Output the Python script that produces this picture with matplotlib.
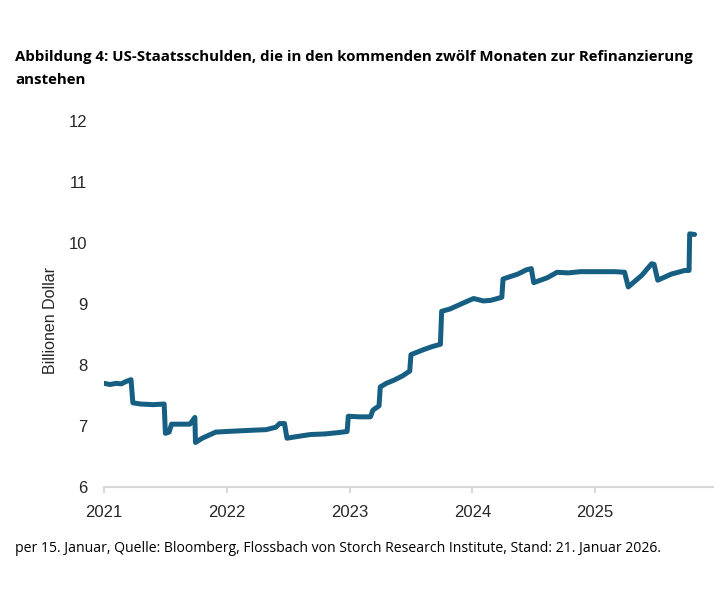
import numpy as np
import matplotlib as mpl
mpl.use("Agg")
import matplotlib.pyplot as plt

# 1) Data (decimal years, Billionen Dollar)
years = [2021.00, 2021.05, 2021.10, 2021.14, 2021.18, 2021.22, 2021.235,
         2021.30, 2021.40, 2021.49, 2021.50, 2021.53, 2021.55, 2021.62,
         2021.70, 2021.74, 2021.745, 2021.80, 2021.91, 2022.00, 2022.10,
         2022.20, 2022.32, 2022.40, 2022.43, 2022.47, 2022.49, 2022.55,
         2022.68, 2022.80, 2022.90, 2022.98, 2022.99, 2023.08, 2023.17,
         2023.19, 2023.24, 2023.25, 2023.30, 2023.36, 2023.43, 2023.49,
         2023.50, 2023.60, 2023.67, 2023.74, 2023.75, 2023.82, 2023.93,
         2024.01, 2024.09, 2024.15, 2024.24, 2024.25, 2024.37, 2024.44,
         2024.48, 2024.50, 2024.61, 2024.69, 2024.78, 2024.88, 2025.00,
         2025.16, 2025.24, 2025.27, 2025.38, 2025.46, 2025.48, 2025.51,
         2025.62, 2025.73, 2025.765, 2025.77, 2025.81]
values = [7.70, 7.68, 7.70, 7.69, 7.73, 7.76, 7.38,
          7.36, 7.35, 7.36, 6.88, 6.90, 7.03, 7.03,
          7.03, 7.14, 6.73, 6.80, 6.90, 6.91, 6.92,
          6.93, 6.94, 6.98, 7.04, 7.04, 6.80, 6.82,
          6.86, 6.87, 6.89, 6.91, 7.16, 7.15, 7.15,
          7.26, 7.33, 7.64, 7.70, 7.75, 7.82, 7.90,
          8.17, 8.25, 8.30, 8.34, 8.88, 8.92, 9.02,
          9.09, 9.05, 9.06, 9.11, 9.41, 9.49, 9.56,
          9.58, 9.35, 9.43, 9.52, 9.51, 9.53, 9.53,
          9.53, 9.52, 9.28, 9.47, 9.66, 9.65, 9.39,
          9.49, 9.55, 9.55, 10.15, 10.14]

year_ticks = [2021, 2022, 2023, 2024, 2025]
value_ticks = [6, 7, 8, 9, 10, 11, 12]

title = ("Abbildung 4: US-Staatsschulden, die in den kommenden zwölf Monaten "
         "zur Refinanzierung\nanstehen")
source = ("per 15. Januar, Quelle: Bloomberg, Flossbach von Storch Research "
          "Institute, Stand: 21. Januar 2026.")

# 2) Figure
fig = plt.figure(figsize=(7.26, 5.92), dpi=100)
ax = fig.add_axes([104 / 726, 1 - 487 / 592, (713 - 104) / 726, (487 - 121) / 592])

ax.plot(years, values, color="#175f82", lw=3.6, solid_joinstyle="round",
        solid_capstyle="round")

ax.set_xlim(2021, 2025.96)
ax.set_ylim(6, 12)
ax.set_xticks(year_ticks)
ax.set_xticklabels([str(y) for y in year_ticks])
ax.set_yticks(value_ticks)

for side in ["top", "right", "left"]:
    ax.spines[side].set_visible(False)
ax.spines["bottom"].set_color("#d9d9d9")
ax.spines["bottom"].set_linewidth(1.5)

ax.tick_params(axis="x", length=4, width=1.5, color="#d9d9d9", pad=9,
               labelsize=12, labelcolor="#262626")
ax.tick_params(axis="y", length=0, pad=12, labelsize=12, labelcolor="#262626")
for lbl in ax.get_xticklabels() + ax.get_yticklabels():
    lbl.set_fontfamily("Liberation Sans")

ax.set_ylabel("Billionen Dollar", fontsize=11.5, family="Liberation Sans",
              color="#262626")
ax.yaxis.set_label_coords(-0.076, 0.455)

fig.text(15 / 726, 1 - 50 / 592, title, fontsize=10.8, fontweight="bold",
         family="Open Sans", va="top", ha="left", linespacing=1.85,
         color="black")
fig.text(15 / 726, 1 - 548 / 592, source, fontsize=10.1, family="Open Sans",
         va="center", ha="left", color="black")

plt.savefig("out.png", dpi=100)
plt.close()
